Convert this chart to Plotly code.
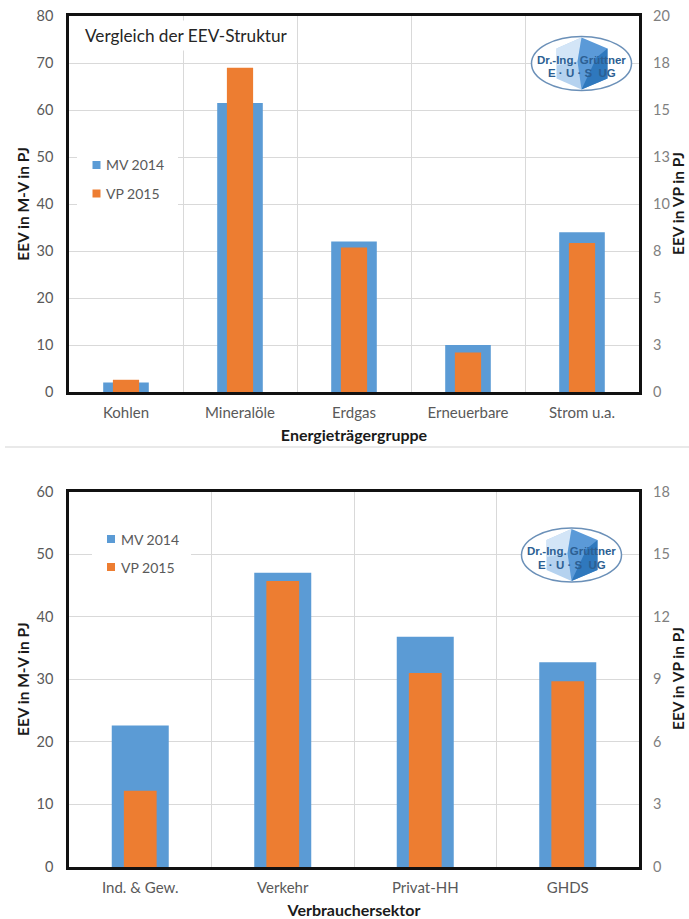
import plotly.graph_objects as go

W, H = 689, 919
FONT = "Lato"

# Energy carrier comparison
carriers = ["Kohlen", "Mineralöle", "Erdgas", "Erneuerbare", "Strom u.a."]
carrier_mv_2014 = [2.0, 61.5, 32.0, 10.0, 34.0]
carrier_vp_2015 = [0.65, 17.25, 7.68, 2.1, 7.92]
carrier_left_ticks = [0, 10, 20, 30, 40, 50, 60, 70, 80]
carrier_right_ticks = [0, 2.5, 5, 7.5, 10, 12.5, 15, 17.5, 20]
carrier_right_labels = ["0", "3", "5", "8", "10", "13", "15", "18", "20"]

# Consumer sector comparison
sectors = ["Ind. & Gew.", "Verkehr", "Privat-HH", "GHDS"]
sector_mv_2014 = [22.6, 47.0, 36.8, 32.7]
sector_vp_2015 = [3.66, 13.71, 9.3, 8.91]
sector_left_ticks = [0, 10, 20, 30, 40, 50, 60]
sector_right_ticks = [0, 3, 6, 9, 12, 15, 18]

series_names = ["MV 2014", "VP 2015"]
right_title = "EEV in VP in PJ"

BLUE = "#5b9bd5"
ORANGE = "#ed7d31"
GRID = "#d9d9d9"
TICK = "#595959"
TICK_RIGHT = "#7f7f7f"
DARK = "#1a1a1a"


def px(x):
    return x / W


def py(y):
    return 1 - y / H


def xaxis_style(title, anchor):
    return dict(
        domain=[px(69), px(639)], anchor=anchor, type="category", automargin=False,
        tickson="boundaries", ticks="", showgrid=True, gridcolor=GRID, gridwidth=1.2,
        showline=True, mirror=True, linecolor="#111111", linewidth=2.5,
        ticklabelstandoff=5,
        tickfont=dict(family=FONT, size=15, color=TICK),
        title=dict(text=title, standoff=11,
                   font=dict(family=FONT, size=16, color=DARK, weight="bold")),
    )


def left_axis(top, bottom, rng, ticks):
    return dict(
        domain=[py(bottom), py(top)], range=rng, tickvals=ticks, ticks="", automargin=False,
        showgrid=True, gridcolor=GRID, gridwidth=1.2, zeroline=False,
        showline=True, mirror=True, linecolor="#111111", linewidth=2.5,
        ticklabelstandoff=10,
        tickfont=dict(family=FONT, size=14.5, color=TICK),
        title=dict(text="EEV in M-V in PJ", standoff=4,
                   font=dict(family=FONT, size=15.5, color=DARK, weight="bold")),
    )


def right_axis(anchor, overlay, rng, ticks, labels):
    return dict(
        overlaying=overlay, anchor=anchor, side="right", range=rng, automargin=False,
        tickvals=ticks, ticktext=labels, ticks="", showgrid=False, zeroline=False,
        showline=False, ticklabelstandoff=13,
        tickfont=dict(family=FONT, size=14.5, color=TICK_RIGHT),
    )


def paper_rect(x0, y0, x1, y1, fill):
    return dict(type="rect", xref="paper", yref="paper", x0=px(x0), x1=px(x1), y0=py(y1), y1=py(y0),
                fillcolor=fill, line=dict(width=0), layer="above")


def paper_text(text, x, y, font, xanchor="center", **extra):
    return dict(text=text, x=px(x), y=py(y), xref="paper", yref="paper", xanchor=xanchor,
                yanchor="middle", showarrow=False, font=font, **extra)


def legend_block(mask, squares_x, rows, text_x):
    """White patch over the grid with one colour square and label per series."""
    shapes = [paper_rect(*mask, "white")]
    labels = []
    for name, colour, row_y in zip(series_names, (BLUE, ORANGE), rows):
        shapes.append(paper_rect(squares_x, row_y - 4, squares_x + 8, row_y + 4, colour))
        labels.append(paper_text(name, text_x, row_y, dict(family=FONT, size=14, color=TICK), xanchor="left"))
    return shapes, labels


def logo(cx, cy):
    """Company badge: faceted gem inside an ellipse, returned as shapes and labels."""
    def path(points):
        return "M " + " L ".join(f"{px(cx + a)},{py(cy + b)}" for a, b in points) + " Z"

    facets = [
        ([(-25, -15), (0, -26), (0, 26), (-25, 15)], "#b5d2ef"),
        ([(-25, -15), (0, -26), (-4, -2), (-25, 2)], "#d3e5f7"),
        ([(0, -26), (26, -15), (26, 15), (0, 26), (-4, -2)], "#5b9ad8"),
        ([(15, -6), (26, -15), (26, 15), (0, 26)], "#2f78bd"),
    ]
    shapes = [dict(type="circle", xref="paper", yref="paper",
                   x0=px(cx - 50), x1=px(cx + 50), y0=py(cy + 27), y1=py(cy - 27),
                   fillcolor="white", line=dict(color="#6b90b8", width=1.5), layer="above")]
    for pts, colour in facets:
        shapes.append(dict(type="path", xref="paper", yref="paper", path=path(pts),
                           fillcolor=colour, line=dict(width=0), layer="above"))
    badge_font = dict(family="Liberation Sans", size=11.5, color="#2c5f93", weight="bold")
    labels = [
        paper_text("Dr.-Ing. Grüttner", cx, cy - 4, badge_font),
        paper_text("E · U · S  UG", cx, cy + 9.5, badge_font),
    ]
    return shapes, labels


fig = go.Figure()

fig.add_bar(x=carriers, y=carrier_mv_2014, name=series_names[0], marker_color=BLUE, width=0.4,
            marker_line_width=0, xaxis="x", yaxis="y")
fig.add_bar(x=carriers, y=carrier_vp_2015, name=series_names[1], marker_color=ORANGE, width=0.23,
            marker_line_width=0, xaxis="x", yaxis="y2")
fig.add_bar(x=sectors, y=sector_mv_2014, name=series_names[0], marker_color=BLUE, width=0.4,
            marker_line_width=0, xaxis="x2", yaxis="y3")
fig.add_bar(x=sectors, y=sector_vp_2015, name=series_names[1], marker_color=ORANGE, width=0.23,
            marker_line_width=0, xaxis="x2", yaxis="y4")

logo1_shapes, logo1_labels = logo(581.5, 63.5)
logo2_shapes, logo2_labels = logo(571.5, 555)
legend1_shapes, legend1_labels = legend_block((77, 148, 178, 210), 92.5, (165, 193.5), 103.5)
legend2_shapes, legend2_labels = legend_block((92, 525, 191, 578), 107, (539, 567), 118.5)

separator = dict(type="line", xref="paper", yref="paper", x0=px(5), x1=1, y0=py(447), y1=py(447),
                 line=dict(color="#d4d4d4", width=1.2))

# Right-hand axis titles sit close to the page edge
title_font = dict(family=FONT, size=15.5, color=DARK, weight="bold")
right_titles = [
    paper_text(right_title, 678, 204, title_font, textangle=-90),
    paper_text(right_title, 678, 679, title_font, textangle=-90),
]

fig.update_layout(
    width=W, height=H, margin=dict(l=0, r=0, t=0, b=0), autosize=False,
    paper_bgcolor="white", plot_bgcolor="white", barmode="overlay", showlegend=False,
    xaxis=xaxis_style("Energieträgergruppe", "y"),
    yaxis=left_axis(16, 392, [0, 80], carrier_left_ticks),
    yaxis2=right_axis("x", "y", [0, 20], carrier_right_ticks, carrier_right_labels),
    xaxis2=xaxis_style("Verbrauchersektor", "y3"),
    yaxis3=left_axis(491.5, 867, [0, 60], sector_left_ticks),
    yaxis4=right_axis("x2", "y3", [0, 18], sector_right_ticks, [str(t) for t in sector_right_ticks]),
    shapes=[separator] + legend1_shapes + legend2_shapes + logo1_shapes + logo2_shapes,
    annotations=[
        paper_text("Vergleich der EEV-Struktur", 80, 36, dict(family=FONT, size=17.2, color="#262626"),
                   xanchor="left", bgcolor="white", borderpad=4),
    ] + legend1_labels + legend2_labels + logo1_labels + logo2_labels + right_titles,
)

fig.write_html("out.html")
